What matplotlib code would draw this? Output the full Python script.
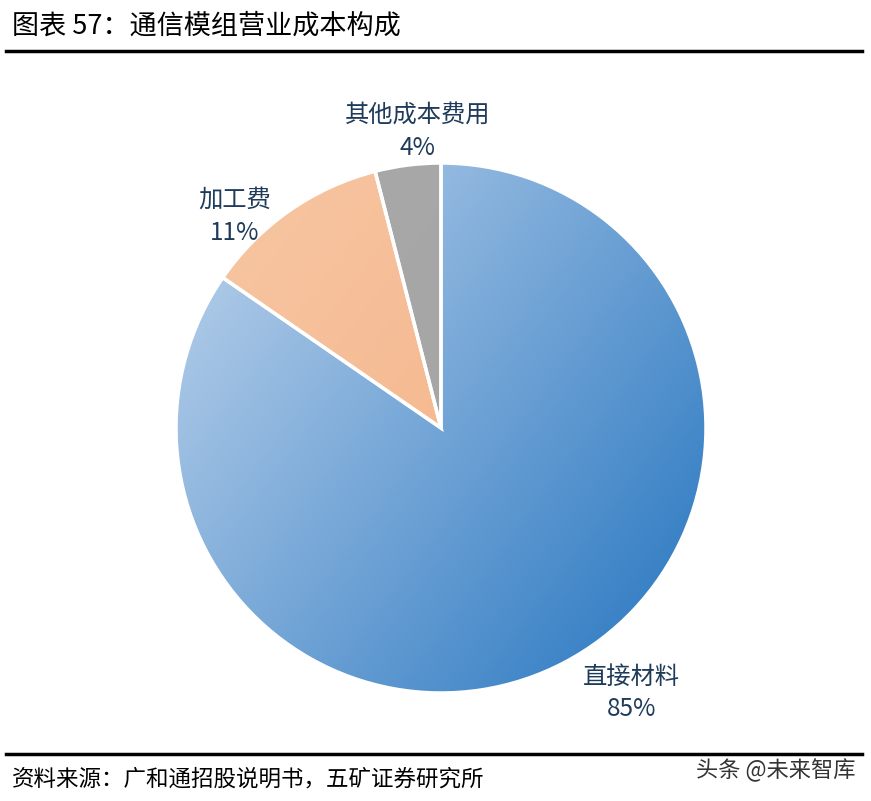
import numpy as np
import matplotlib.pyplot as plt
from matplotlib.colors import LinearSegmentedColormap

plt.rcParams['font.family'] = ['Noto Sans CJK SC', 'DejaVu Sans']

# 数据
categories = ['直接材料', '加工费', '其他成本费用']
shares = [84.6, 11.4, 4.0]
pct_labels = ['85%', '11%', '4%']

# 渐变色 (浅 -> 深)
grad_colors = [('#aac7e6', '#3a82c6'), ('#f7c4a0', '#f3b083'), ('#a8a8a8', '#a4a4a4')]
# 标签位置 (相对半径为1)
label_pos = [(0.72, -1.0), (-0.78, 0.80), (-0.09, 1.12)]

W, H = 871, 801
fig = plt.figure(figsize=(W / 100, H / 100), dpi=100)

cx, cy, r = 441, 428, 265
ax = fig.add_axes([(cx - r) / W, (H - cy - r) / H, 2 * r / W, 2 * r / H])

wedges, _ = ax.pie(shares, startangle=90, counterclock=False, radius=1,
                   wedgeprops=dict(edgecolor='white', linewidth=2.5))

# 渐变填充
xx, yy = np.meshgrid(np.linspace(-1, 1, 400), np.linspace(1, -1, 400))
t = (0.8 * xx - 0.6 * yy + 1) / 2
t = np.clip(t, 0, 1)
for w, (c1, c2) in zip(wedges, grad_colors):
    cmap = LinearSegmentedColormap.from_list('g', [c1, c2])
    w.set_facecolor('none')
    im = ax.imshow(t, cmap=cmap, extent=[-1, 1, -1, 1], vmin=0, vmax=1,
                   zorder=w.get_zorder() - 0.1, interpolation='bilinear')
    im.set_clip_path(w)

for w in wedges:
    w.set_zorder(3)

ax.set_xlim(-1, 1)
ax.set_ylim(-1, 1)
ax.set_aspect('equal')
ax.axis('off')

for (lx, ly), name, p in zip(label_pos, categories, pct_labels):
    ax.text(lx, ly, name + '\n' + p, ha='center', va='center', fontsize=17.5,
            color='#1f3b5a', linespacing=1.35, clip_on=False)

# 标题与线
fig.text(12 / W, 1 - 26 / H, '图表 57：通信模组营业成本构成', fontsize=19.5,
         ha='left', va='center', color='black')
fig.add_artist(plt.Line2D([6 / W, 862 / W], [1 - 51 / H, 1 - 51 / H],
                          color='black', linewidth=2.5))
fig.add_artist(plt.Line2D([6 / W, 862 / W], [1 - 754 / H, 1 - 754 / H],
                          color='black', linewidth=2.5))
fig.text(12 / W, 1 - 779 / H, '资料来源：广和通招股说明书，五矿证券研究所', fontsize=16.2,
         ha='left', va='center', color='black')
fig.text(855 / W, 1 - 770 / H, '头条 @未来智库', fontsize=16,
         ha='right', va='center', color='#333333')

fig.savefig('out.png', dpi=100, facecolor='white')
